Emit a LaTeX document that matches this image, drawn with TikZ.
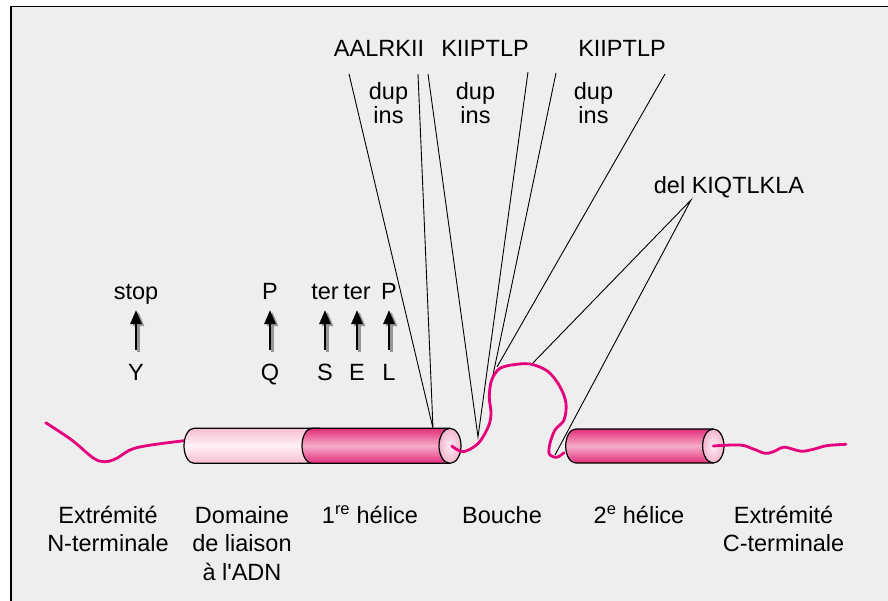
\documentclass[tikz,border=0pt]{standalone}
\usepackage{fontspec}
\setmainfont{Liberation Sans}[Ligatures=TeXOff]
\usetikzlibrary{arrows.meta,calc}

\definecolor{panel}{RGB}{238,238,238}
\definecolor{chain}{RGB}{228,0,124}
\definecolor{hxedge}{RGB}{226,46,122}
\definecolor{hxmid}{RGB}{246,172,200}
\definecolor{dbedge}{RGB}{246,188,209}
\definecolor{dbmid}{RGB}{255,242,247}
\definecolor{capedge}{RGB}{242,180,204}
\definecolor{capmid}{RGB}{253,238,244}
\definecolor{shadowgray}{RGB}{150,150,150}

\begin{document}
\begin{tikzpicture}[x=1pt,y=-1pt,
  lbl/.style={inner sep=0pt, anchor=base, font=\fontsize{23.5}{28.4}\selectfont},
  pair/.style={lbl, align=center, font=\fontsize{23.5}{23.3}\selectfont},
  pointer/.style={line width=0.9pt, black},
  chainline/.style={line width=2.8pt, chain, line cap=round, line join=round},
  outline/.style={line width=1.2pt, black},
  mut/.style={line width=2.6pt, black, -{Triangle[length=14pt,width=11pt]}},
  mutshadow/.style={line width=2.6pt, shadowgray, -{Triangle[length=14pt,width=11pt]}}]

\useasboundingbox (0,0) rectangle (888,601);
\fill[white] (0,0) rectangle (888,601);
\begin{scope}
  \clip (0,0) rectangle (888,601);
  \fill[panel] (11,6.5) rectangle (900,620);
  \draw[line width=1.3pt] (900,6.5) -- (11,6.5) -- (11,620);
\end{scope}

% ---------- labels (multi-line nodes sit on their last baseline) ----------
\node[lbl] (seqA) at (379,57) {AALRKII};
\node[lbl] (seqB) at (485,57) {KIIPTLP};
\node[lbl] (seqC) at (622,57) {KIIPTLP};
\node[pair] (dupA) at (388.5,123.3) {dup\\ins};
\node[pair] (dupB) at (475.5,123.3) {dup\\ins};
\node[pair] (dupC) at (593.5,123.3) {dup\\ins};
\node[lbl] (delK) at (729,194) {del KIQTLKLA};

\node[lbl] (stop) at (136,300) {stop};
\node[lbl] (P1)   at (270,300) {P};
\node[lbl] (ter1) at (325,300) {ter};
\node[lbl] (ter2) at (357,300) {ter};
\node[lbl] (P2)   at (389,300) {P};
\node[lbl] (Y) at (136,380) {Y};
\node[lbl] (Q) at (270,380) {Q};
\node[lbl] (S) at (325,380) {S};
\node[lbl] (E) at (357,380) {E};
\node[lbl] (L) at (389,380) {L};

\node[lbl, align=center] (nterm) at (108,551.7) {Extrémité\\N-terminale};
\node[lbl, align=center] (dbd)   at (242,580.1) {Domaine\\de liaison\\à l'ADN};
\node[lbl] (helixA) at (370,523.3) {1\textsuperscript{re} hélice};
\node[lbl] (mouth)  at (502,523.3) {Bouche};
\node[lbl] (helixB) at (639,523.3) {2\textsuperscript{e} hélice};
\node[lbl, align=center] (cterm) at (783.5,551.7) {Extrémité\\C-terminale};

% ---------- mutation arrows ----------
\foreach \lo/\hi in {Y/stop, Q/P1, S/ter1, E/ter2, L/P2} {
  \draw[mutshadow] ([xshift=2.5pt,yshift=28pt]\lo.base) -- ([xshift=2.5pt,yshift=-12pt]\hi.base);
  \draw[mut] ([yshift=30pt]\lo.base) -- ([yshift=-10pt]\hi.base);
}

% ---------- pointer lines ----------
\coordinate (t1) at (349,74);
\coordinate (t2) at (418,74);
\coordinate (t3) at (428,74);
\coordinate (t4) at (528,72);
\coordinate (t5) at (556,73);
\coordinate (t6) at (665,74);
\coordinate (e12) at (433,428.3);
\coordinate (e34) at (478,437);
\coordinate (e5) at (493,375);
\coordinate (e6) at (497,367);
\coordinate (dk) at (691,200);
\coordinate (dk1) at (531,365);
\coordinate (dk2) at (555,455);

\draw[pointer] (t1) -- (e12) -- (t2);
\draw[pointer] (t3) -- (e34) -- (t4);
\draw[pointer] (t5) -- (e5);
\draw[pointer] (t6) -- (e6);
\draw[pointer] (dk1) -- (dk) -- (dk2);

% ---------- N-terminal tail ----------
\draw[chainline] plot[smooth, tension=0.6] coordinates {
  (45.7,422.7) (71.7,440) (93.3,458) (105,461.7) (116.7,458.3)
  (130,450) (146.7,445.7) (184,440.7)};

% ---------- DNA-binding domain + first helix ----------
\shade[top color=dbedge, bottom color=dbedge, middle color=dbmid]
  (320,428.3) -- (194,428.3) arc[start angle=270, end angle=90, x radius=10, y radius=17.5]
  -- (320,463.3) -- cycle;
\draw[outline] (320,428.3) -- (194,428.3)
  arc[start angle=270, end angle=90, x radius=10, y radius=17.5] -- (320,463.3);

\shade[top color=hxedge, bottom color=hxedge, middle color=hxmid]
  (450,428.3) -- (312,428.3) arc[start angle=270, end angle=90, x radius=10, y radius=17.5]
  -- (450,463.3) -- cycle;
\draw[outline] (450,428.3) -- (312,428.3)
  arc[start angle=270, end angle=90, x radius=10, y radius=17.5] -- (450,463.3);
\shade[inner color=capmid, outer color=capedge] (450,445.8) ellipse[x radius=11, y radius=17.5];
\draw[outline] (450,445.8) ellipse[x radius=11, y radius=17.5];

% ---------- mouth loop ----------
\draw[chainline] plot[smooth, tension=0.55] coordinates {
  (451.7,446) (463.3,451.7) (478.3,443.3) (488.3,426.7) (491,413.3)
  (489.3,396.7) (491.7,380) (500,368.3) (516.7,364.3) (531.7,364.3)
  (548.3,371.7) (560,386.7) (566,403.3) (564,420) (555,430)
  (550,443.3) (549.3,454) (556.7,457.3) (564,452.7)};

% ---------- second helix ----------
\shade[top color=hxedge, bottom color=hxedge, middle color=hxmid]
  (713.3,429) -- (575.7,429) arc[start angle=270, end angle=90, x radius=10, y radius=17]
  -- (713.3,463) -- cycle;
\draw[outline] (713.3,429) -- (575.7,429)
  arc[start angle=270, end angle=90, x radius=10, y radius=17] -- (713.3,463);
\shade[inner color=capmid, outer color=capedge] (713.3,446) ellipse[x radius=10.7, y radius=17];
\draw[outline] (713.3,446) ellipse[x radius=10.7, y radius=17];

% ---------- C-terminal tail ----------
\draw[chainline] plot[smooth, tension=0.6] coordinates {
  (713.3,446) (740,445) (753.3,449) (765,453.3) (773.3,451.7) (783.3,447.3)
  (793.3,449.3) (801.7,451.3) (813.3,449.3) (826.7,445.7) (846,444.3)};

\end{tikzpicture}
\end{document}
